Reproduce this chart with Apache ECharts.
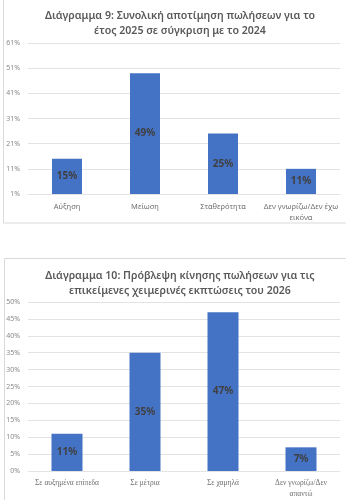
<!DOCTYPE html>
<html><head><meta charset="utf-8">
<script src="https://cdn.jsdelivr.net/npm/echarts@6/dist/echarts.min.js"></script>
<style>html,body{margin:0;padding:0;background:#fff;}#c{width:346px;height:500px;}</style>
</head><body><div id="c"></div>
<script>
const title1 = 'Διάγραμμα 9: Συνολική αποτίμηση πωλήσεων για το\nέτος 2025 σε σύγκριση με το 2024';
const cats1 = ['Αύξηση', 'Μείωση', 'Σταθερότητα', 'Δεν γνωρίζω/Δεν έχω\nεικόνα'];
const vals1 = [15, 49, 25, 11];
const ticks1 = {min: 1, max: 61, interval: 10};

const title2 = 'Διάγραμμα 10: Πρόβλεψη κίνησης πωλήσεων για τις\nεπικείμενες χειμερινές εκπτώσεις του 2026';
const cats2 = ['Σε αυξημένα επίπεδα', 'Σε μέτρια', 'Σε χαμηλά', 'Δεν γνωρίζω/Δεν\nαπαντώ'];
const vals2 = [11, 35, 47, 7];
const ticks2 = {min: 0, max: 50, interval: 5};

const chart = echarts.init(document.getElementById('c'), null, {renderer: 'canvas'});
const titleStyle = {fontFamily: 'Noto Sans', fontSize: 10.6, fontWeight: 600, color: '#595959', lineHeight: 15, align: 'center'};
const axisLab = {fontFamily: 'Noto Sans', fontSize: 7, color: '#8a8a8a', formatter: '{value}%', margin: 8};
function yAx(i, t) {
  return {type: 'value', gridIndex: i, min: t.min, max: t.max, interval: t.interval,
    axisLine: {show: false}, axisTick: {show: false},
    splitLine: {lineStyle: {color: '#e3e3e3', width: 1}}, axisLabel: axisLab};
}
function xAx(i, c, font) {
  return {type: 'category', gridIndex: i, data: c,
    axisLine: {show: true, lineStyle: {color: '#e3e3e3'}}, axisTick: {show: false},
    axisLabel: {fontFamily: font, fontSize: 7.5, color: '#6f6f6f', lineHeight: 11, margin: 7, interval: 0}};
}
const barLabel = {show: true, position: 'inside', formatter: '{c}%', fontFamily: 'Noto Sans', fontSize: 10, fontWeight: 'bold', color: '#404040'};
chart.setOption({
  animation: false,
  title: [
    {text: title1, left: 175, top: 3, textAlign: 'center', textStyle: titleStyle},
    {text: title2, left: 175, top: 263, textAlign: 'center', textStyle: titleStyle}
  ],
  graphic: [
    {type: 'rect', shape: {x: 3.5, y: -2, width: 360, height: 225}, style: {fill: 'none', stroke: '#d9d9d9', lineWidth: 1}, silent: true},
    {type: 'rect', shape: {x: 4.5, y: 258.5, width: 360, height: 260}, style: {fill: 'none', stroke: '#d9d9d9', lineWidth: 1}, silent: true}
  ],
  grid: [
    {left: 28, top: 43, width: 312, height: 151},
    {left: 28, top: 302, width: 312, height: 169}
  ],
  xAxis: [xAx(0, cats1, 'Noto Sans'), xAx(1, cats2, 'Liberation Serif')],
  yAxis: [yAx(0, ticks1), yAx(1, ticks2)],
  series: [
    {type: 'bar', xAxisIndex: 0, yAxisIndex: 0, data: vals1, barWidth: 30, itemStyle: {color: '#4472C4'}, label: barLabel},
    {type: 'bar', xAxisIndex: 1, yAxisIndex: 1, data: vals2, barWidth: 31, itemStyle: {color: '#4472C4'}, label: barLabel}
  ]
});
</script></body></html>
